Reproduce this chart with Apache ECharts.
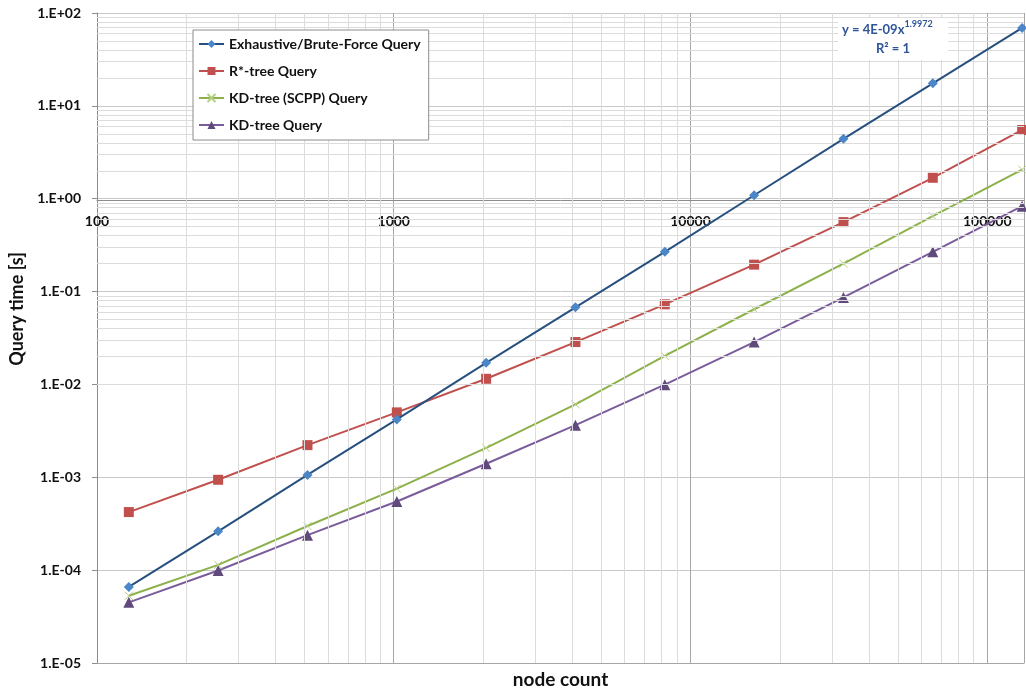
<!DOCTYPE html>
<html>
<head>
<meta charset="utf-8">
<title>Query time vs node count</title>
<script src="https://cdn.jsdelivr.net/npm/echarts@6/dist/echarts.min.js"></script>
<style>
  html, body { margin: 0; padding: 0; background: #fff; }
  #chart { width: 1026px; height: 694px; }
</style>
</head>
<body>
<div id="chart"></div>
<script>
// node counts (x) and query times in seconds (y)
const nodeCounts = [128, 256, 512, 1024, 2048, 4096, 8192, 16384, 32768, 65536, 131072];
const bruteForce = [6.6e-5, 2.62e-4, 1.06e-3, 4.2e-3, 1.71e-2, 6.77e-2, 0.268, 1.09, 4.41, 17.5, 69];
const rStarTree = [4.22e-4, 9.4e-4, 2.22e-3, 5.0e-3, 1.15e-2, 2.86e-2, 7.29e-2, 0.195, 0.56, 1.68, 5.5];
const kdScpp = [5.3e-5, 1.14e-4, 2.99e-4, 7.55e-4, 2.07e-3, 6.1e-3, 2.03e-2, 6.45e-2, 0.2, 0.65, 2.06];
const kdTree = [4.5e-5, 9.9e-5, 2.38e-4, 5.48e-4, 1.4e-3, 3.64e-3, 9.95e-3, 2.86e-2, 8.65e-2, 0.268, 0.83];

const seriesNames = ['Exhaustive/Brute-Force Query', 'R*-tree Query', 'KD-tree (SCPP) Query', 'KD-tree Query'];

// minor grid positions (2..9 within each decade)
const xMinor = [200, 300, 400, 500, 600, 700, 800, 900,
  2000, 3000, 4000, 5000, 6000, 7000, 8000, 9000,
  20000, 30000, 40000, 50000, 60000, 70000, 80000, 90000];
const yDecades = [1e-5, 1e-4, 1e-3, 1e-2, 1e-1, 1, 10];
const yMinorSteps = [2, 3, 4, 5, 6, 7, 8, 9];

const font = 'Lato, "Open Sans", sans-serif';

function pairs(ys) {
  return nodeCounts.map((x, i) => [x, ys[i]]);
}

function expLabel(v) {
  const e = Math.round(Math.log10(v));
  const sign = e < 0 ? '-' : '+';
  const n = Math.abs(e);
  return '1.E' + sign + (n < 10 ? '0' + n : n);
}

const minorLines = [];
xMinor.forEach(v => minorLines.push({ xAxis: v }));
yDecades.forEach(d => {
  yMinorSteps.forEach(s => minorLines.push({ yAxis: +(d * s).toPrecision(3) }));
});

const chart = echarts.init(document.getElementById('chart'));

chart.setOption({
  animation: false,
  textStyle: { fontFamily: font },
  grid: [
    { left: 97, right: 2, top: 13, bottom: 25, containLabel: false },
    // upper part of the plot, its bottom edge is the y = 1 line where the x axis crosses
    { left: 97, right: 2, top: 13, height: 187, containLabel: false }
  ],
  legend: {
    data: seriesNames,
    orient: 'vertical',
    left: 193,
    top: 30,
    z: 20,
    padding: [7, 8, 8, 5],
    itemGap: 13,
    itemWidth: 25,
    itemHeight: 10,
    backgroundColor: '#fff',
    borderColor: '#8c8c8c',
    borderWidth: 1,
    textStyle: { fontFamily: font, fontSize: 14, fontWeight: 'bold', color: '#111' }
  },
  graphic: [{
    type: 'text',
    left: 838,
    top: 18,
    z: 100,
    style: {
      text: '{a|y = 4E-09x}{s|1.9972}\n{r|R² = 1}',
      align: 'center',
      backgroundColor: '#fff',
      padding: [2, 4],
      rich: {
        a: { fontFamily: font, fontSize: 13, fontWeight: 'bold', fill: '#2f5597', lineHeight: 19 },
        s: { fontFamily: font, fontSize: 9, fontWeight: 'bold', fill: '#2f5597', verticalAlign: 'top', lineHeight: 19 },
        r: { fontFamily: font, fontSize: 13, fontWeight: 'bold', fill: '#2f5597', lineHeight: 19, width: 102, align: 'center' }
      }
    }
  }],
  xAxis: [{
    type: 'log',
    gridIndex: 0,
    logBase: 10,
    min: 100,
    max: 133000,
    position: 'bottom',
    name: 'node count',
    nameLocation: 'middle',
    nameGap: 7,
    nameTextStyle: { fontFamily: font, fontSize: 19, fontWeight: 'bold', color: '#111' },
    axisLine: { show: true, lineStyle: { color: '#a6a6a6', width: 1 } },
    axisTick: { show: false },
    axisLabel: { show: false },
    splitLine: { show: true, lineStyle: { color: '#a6a6a6', width: 1 } }
  }, {
    type: 'log',
    gridIndex: 1,
    logBase: 10,
    min: 100,
    max: 133000,
    position: 'bottom',
    axisLine: { show: true, lineStyle: { color: '#8c8c8c', width: 1 } },
    axisTick: { show: false },
    axisLabel: {
      margin: 14,
      fontFamily: font,
      fontSize: 14,
      fontWeight: 'bold',
      color: '#111',
      showMaxLabel: false,
      formatter: v => String(Math.round(v))
    },
    splitLine: { show: false }
  }],
  yAxis: [{
    type: 'log',
    gridIndex: 0,
    logBase: 10,
    min: 1e-5,
    max: 100,
    name: 'Query time [s]',
    nameLocation: 'middle',
    nameGap: 61,
    nameTextStyle: { fontFamily: font, fontSize: 18, fontWeight: 'bold', color: '#111', padding: [0, 0, 0, 58] },
    axisLine: { show: true, lineStyle: { color: '#8c8c8c', width: 1 } },
    axisTick: { show: true, length: 5, lineStyle: { color: '#8c8c8c' } },
    axisLabel: {
      margin: 16,
      fontFamily: font,
      fontSize: 14,
      fontWeight: 'bold',
      color: '#111',
      formatter: expLabel
    },
    splitLine: { show: true, lineStyle: { color: '#c8c8c8', width: 1 } }
  }, {
    type: 'log',
    gridIndex: 1,
    min: 1,
    max: 100,
    show: false
  }],
  series: [
    {
      // minor grid lines, drawn through the axes
      type: 'line',
      name: 'grid',
      data: [],
      silent: true,
      z: 1,
      markLine: {
        silent: true,
        symbol: ['none', 'none'],
        label: { show: false },
        animation: false,
        lineStyle: { color: '#dcdcdc', width: 1, type: 'solid' },
        data: minorLines
      }
    },
    {
      name: seriesNames[0],
      type: 'line',
      data: pairs(bruteForce),
      symbol: 'diamond',
      symbolSize: 10,
      z: 5,
      lineStyle: { color: '#27507f', width: 2 },
      itemStyle: { color: '#4a86c8' }
    },
    {
      name: seriesNames[1],
      type: 'line',
      data: pairs(rStarTree),
      symbol: 'rect',
      symbolSize: 10,
      z: 4,
      lineStyle: { color: '#c0504d', width: 2 },
      itemStyle: { color: '#c0504d' }
    },
    {
      name: seriesNames[2],
      type: 'line',
      data: pairs(kdScpp),
      symbol: 'path://M0,0L10,10M10,0L0,10',
      symbolSize: 8,
      z: 3,
      lineStyle: { color: '#8db14a', width: 2 },
      itemStyle: { color: 'rgba(0,0,0,0)', borderColor: '#b5cf82', borderWidth: 1 }
    },
    {
      name: seriesNames[3],
      type: 'line',
      data: pairs(kdTree),
      symbol: 'triangle',
      symbolSize: 11,
      z: 2,
      lineStyle: { color: '#7a5c9c', width: 2 },
      itemStyle: { color: '#604a7b' }
    }
  ]
});
</script>
</body>
</html>
